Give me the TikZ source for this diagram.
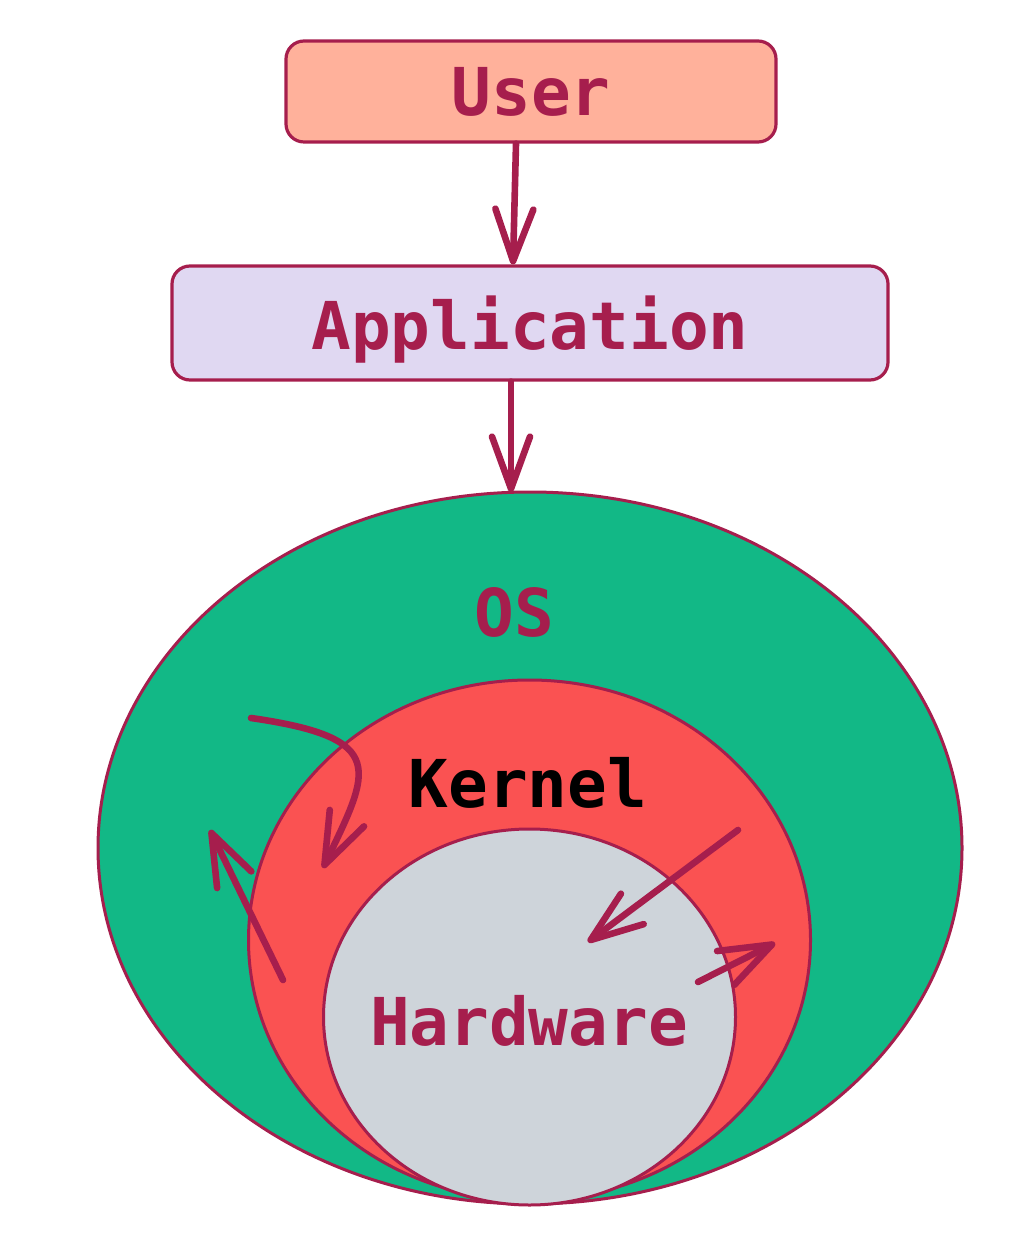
\documentclass[tikz,border=0pt]{standalone}
\usepackage{fontspec}
\setmonofont{DejaVu Sans Mono}
\usetikzlibrary{arrows.meta}

\definecolor{crimson}{HTML}{A61E4D}
\definecolor{userfill}{HTML}{FFB19B}
\definecolor{appfill}{HTML}{E0D8F2}
\definecolor{osfill}{HTML}{12B886}
\definecolor{kernelfill}{HTML}{FA5252}
\definecolor{hwfill}{HTML}{CED4DA}

\tikzset{
  label/.style={font=\ttfamily\bfseries\fontsize{33}{33}\selectfont, text=crimson, text depth=0pt},
  layerbox/.style={label, draw=crimson, line width=1.6pt, rounded corners=9pt},
  flow/.style={crimson, line width=3.3pt, line cap=round, -{Straight Barb[length=26pt,width=19pt,round]}}
}

\begin{document}
\begin{tikzpicture}[x=0.5pt,y=-0.5pt]
    \useasboundingbox (0,0) rectangle (1022,1234);

    % the nested layers
    \draw[crimson, line width=1.5pt, fill=osfill] (530,848) ellipse [x radius=216pt, y radius=178pt];
    \draw[crimson, line width=1.5pt, fill=kernelfill] (529.5,940) ellipse [x radius=140.5pt, y radius=130pt];
    \draw[crimson, line width=1.5pt, fill=hwfill] (529.5,1017) ellipse [x radius=103pt, y radius=94pt];
    \coordinate (ostop) at (511,492);

    \node[label] (os) at (514,612) {OS};
    \node[label, text=black] (kernel) at (528,782) {Kernel};
    \node[label] (hw) at (529,1020) {Hardware};

    % boxes on top
    \node[layerbox, fill=userfill, minimum width=245pt, minimum height=50.5pt] (user) at (531,91.5) {User};
    \node[layerbox, fill=appfill, minimum width=358pt, minimum height=57pt] (app) at (530,323) {Application};

    \draw[flow] ([xshift=-7.5pt]user.south) -- ([xshift=-8.5pt]app.north);
    \draw[flow] ([xshift=-9.5pt]app.south) -- (ostop);

    % calls moving between the layers
    \coordinate (c1a) at (251,718);
    \coordinate (c1b) at (323,868);
    \coordinate (c2a) at (283,980);
    \coordinate (c2b) at (210,830);
    \coordinate (c3a) at (738,830);
    \coordinate (c3b) at (588,942);
    \coordinate (c4a) at (698,982);
    \coordinate (c4b) at (775,943);
    \draw[flow] (c1a) .. controls (390,738) and (370,770) .. (c1b);
    \draw[flow] (c2a) -- (c2b);
    \draw[flow] (c3a) -- (c3b);
    \draw[flow] (c4a) -- (c4b);
\end{tikzpicture}
\end{document}
